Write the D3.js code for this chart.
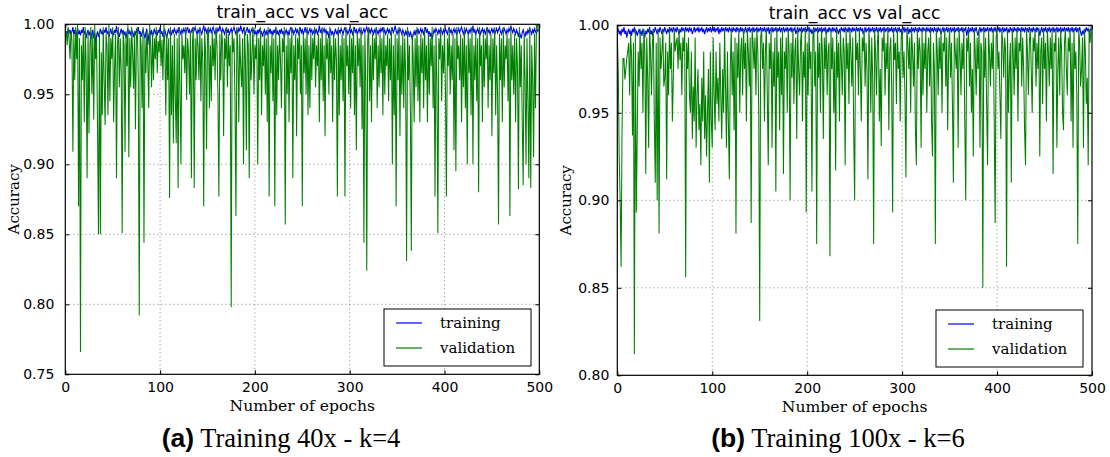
<!DOCTYPE html>
<html><head><meta charset="utf-8">
<script src="https://cdn.jsdelivr.net/npm/d3@7"></script>
<style>
body{margin:0;background:#fff;}
svg{display:block;}
.tick text{font-family:"DejaVu Sans",sans-serif;font-size:14px;fill:#000;}
</style></head>
<body><svg id="c" width="1110" height="457"></svg>
<script>
const panelTitle = "train_acc vs val_acc";
const xLabel = "Number of epochs";
const yLabel = "Accuracy";
const seriesNames = ["training", "validation"];
const xTicks = [0,100,200,300,400,500];
const yTicksA = [0.75,0.80,0.85,0.90,0.95,1.00];
const yTicksB = [0.80,0.85,0.90,0.95,1.00];
const captionA = ["(a)", " Training 40x - k=4"];
const captionB = ["(b)", " Training 100x - k=6"];

const trainA = [
.991,.995,.993,.997,.994,.996,.992,.995,.998,.993,.996,.991,.994,.997,.993,.995,.992,.996,.994,.998,.993,.995,.990,.994,.996,
.992,.995,.989,.993,.996,.990,.994,.986,.992,.995,.991,.994,.997,.993,.995,.992,.996,.994,.998,.993,.995,.991,.994,.997,.993,
.995,.992,.996,.994,.999,.993,.995,.991,.994,.997,.993,.996,.992,.995,.990,.994,.997,.993,.995,.992,.996,.994,.991,.995,.993,
.996,.994,.998,.993,.995,.991,.994,.996,.993,.990,.994,.997,.985,.992,.995,.993,.996,.991,.994,.997,.993,.995,.992,.996,.994,
.998,.993,.995,.991,.994,.996,.993,.990,.994,.997,.993,.995,.992,.996,.994,.997,.995,.993,.996,.994,.998,.995,.993,.996,.994,
.997,.995,.993,.996,.998,.994,.996,.993,.995,.997,.994,.996,.998,.995,.993,.996,.994,.997,.995,.993,.996,.999,.995,.997,.994,
.996,.993,.995,.997,.994,.996,.998,.995,.993,.996,.994,.997,.995,.999,.996,.994,.997,.995,.993,.996,.998,.994,.996,.993,.995,
.997,.994,.996,.998,.995,.993,.996,.994,.997,.995,.999,.996,.994,.997,.995,.993,.996,.998,.994,.996,.993,.995,.997,.994,.996,
.993,.995,.992,.996,.994,.997,.993,.995,.991,.994,.996,.993,.995,.992,.996,.994,.997,.993,.995,.992,.996,.994,.998,.993,.995,
.992,.996,.994,.997,.993,.995,.991,.994,.996,.993,.995,.992,.996,.998,.994,.996,.993,.995,.997,.994,.996,.993,.995,.997,.994,
.996,.993,.995,.998,.994,.996,.993,.995,.997,.994,.996,.993,.995,.997,.994,.996,.993,.995,.999,.994,.996,.993,.995,.997,.994,
.996,.993,.995,.990,.994,.996,.993,.995,.991,.994,.997,.993,.995,.992,.996,.994,.997,.995,.993,.996,.998,.994,.996,.993,.995,
.997,.994,.996,.993,.995,.998,.994,.996,.993,.995,.997,.994,.996,.993,.995,.997,.994,.996,.998,.995,.993,.996,.994,.997,.995,
.993,.996,.994,.997,.995,.993,.996,.994,.997,.995,.998,.994,.996,.993,.995,.997,.994,.996,.993,.995,.997,.994,.996,.999,.995,
.993,.996,.994,.997,.995,.993,.996,.994,.992,.995,.993,.996,.994,.991,.995,.992,.989,.993,.995,.992,.996,.994,.997,.993,.995,
.997,.994,.996,.993,.995,.998,.994,.996,.993,.995,.991,.994,.989,.993,.996,.994,.997,.995,.993,.996,.994,.997,.995,.993,.996,
.994,.997,.995,.993,.996,.998,.994,.996,.993,.995,.997,.994,.996,.993,.995,.997,.994,.996,.998,.995,.993,.996,.994,.997,.995,
.993,.996,.994,.997,.995,.999,.994,.996,.993,.995,.997,.994,.996,.993,.995,.997,.994,.996,.993,.995,.998,.994,.996,.993,.995,
.997,.994,.996,.993,.995,.997,.994,.996,.998,.995,.993,.996,.994,.997,.995,.993,.996,.994,.997,.995,.999,.996,.994,.997,.995,
.993,.996,.994,.991,.995,.992,.990,.994,.996,.993,.991,.995,.993,.996,.994,.997,.995,.993,.996,.994,.997,.995,.993,.996,.995];

const valA = [
0.990,0.995,0.985,0.998,0.990,0.975,0.995,0.988,0.909,0.993,0.960,0.998,0.975,1.000,0.870,0.990,0.766,0.985,0.960,0.996,
0.930,0.998,0.970,0.890,0.995,0.922,0.985,0.998,0.950,0.993,0.932,1.000,0.975,0.990,0.925,0.850,0.995,0.850,0.980,0.935,
0.998,0.960,0.928,0.993,0.985,0.935,1.000,0.945,0.990,0.975,0.998,0.930,0.970,0.993,0.890,0.985,0.998,0.955,0.990,0.965,
0.851,0.995,0.985,0.909,0.993,0.970,1.000,0.905,0.990,0.955,0.998,0.980,0.954,0.995,0.925,0.990,0.998,0.960,0.792,0.993,
0.985,0.940,0.998,0.844,0.990,0.965,0.995,0.975,0.940,1.000,0.985,0.955,0.993,0.960,0.990,0.975,0.998,0.965,0.988,0.980,
0.995,0.970,0.989,0.960,1.000,0.985,0.935,0.993,0.960,0.990,0.876,0.998,0.935,0.985,0.915,0.993,0.950,0.915,0.990,0.883,
0.998,0.955,0.900,0.993,0.975,0.985,0.965,0.998,0.946,0.990,0.980,0.950,0.995,0.890,0.985,0.998,0.883,0.990,0.960,0.993,
0.985,0.960,0.998,0.945,0.990,0.975,0.870,0.995,0.980,0.911,0.993,0.998,0.940,0.985,0.945,0.995,0.970,0.990,0.960,0.998,
0.985,0.950,0.877,0.993,0.960,0.995,0.985,0.920,0.990,0.975,0.998,0.955,0.993,0.970,0.985,0.798,0.995,0.980,0.990,0.945,
0.863,0.998,0.985,0.930,0.993,0.970,0.955,0.990,0.900,0.998,0.975,0.910,0.993,0.985,0.890,0.995,0.960,0.980,0.998,0.950,
0.985,0.975,0.993,0.900,0.990,0.960,0.998,0.935,0.985,0.970,0.993,0.950,0.990,0.930,0.998,0.877,0.985,0.965,0.993,0.945,
0.990,0.870,0.998,0.935,0.985,0.960,0.993,0.975,0.940,0.990,0.980,0.998,0.857,0.985,0.950,0.993,0.930,0.990,0.965,0.998,
0.890,0.985,0.960,0.993,0.920,0.990,0.975,0.998,0.950,0.985,0.870,0.993,0.965,0.990,0.950,0.998,0.935,0.985,0.940,0.993,
0.960,0.990,0.975,0.998,0.955,0.985,0.970,0.993,0.930,0.990,0.960,0.998,0.945,0.985,0.920,0.993,0.975,0.990,0.950,0.998,
0.965,0.985,0.930,0.993,0.960,0.990,0.975,0.877,0.998,0.935,0.985,0.960,0.993,0.945,0.990,0.877,0.998,0.970,0.985,0.950,
0.993,0.940,0.990,0.965,0.998,0.935,0.985,0.910,0.993,0.970,0.990,0.955,0.998,0.925,0.985,0.844,0.993,0.960,0.824,0.990,
0.998,0.945,0.985,0.930,0.993,0.960,0.990,0.975,0.998,0.940,0.985,0.955,0.993,0.965,0.990,0.935,0.998,0.950,0.985,0.970,
0.993,0.945,0.990,0.960,0.998,0.900,0.985,0.935,0.993,0.870,0.990,0.960,0.998,0.920,0.985,0.950,0.993,0.940,0.990,0.965,
0.831,0.998,0.960,0.985,0.940,0.838,0.993,0.975,0.930,0.990,0.955,0.998,0.945,0.985,0.930,0.993,0.965,0.990,0.940,0.998,
0.960,0.985,0.930,0.993,0.950,0.990,0.970,0.998,0.940,0.985,0.877,0.993,0.960,0.851,0.990,0.975,0.998,0.945,0.985,0.965,
0.993,0.955,0.877,0.990,0.970,0.998,0.950,0.985,0.960,0.993,0.910,0.990,0.895,0.998,0.975,0.985,0.960,0.993,0.930,0.990,
0.955,0.998,0.940,0.985,0.900,0.993,0.965,0.990,0.935,0.998,0.900,0.985,0.960,0.993,0.945,0.990,0.880,0.998,0.970,0.985,
0.930,0.993,0.955,0.990,0.975,0.998,0.940,0.985,0.960,0.993,0.920,0.990,0.965,0.998,0.935,0.985,0.950,0.857,0.993,0.960,
0.990,0.930,0.998,0.955,0.985,0.975,0.993,0.945,0.990,0.863,0.998,0.960,0.985,0.950,0.993,0.930,0.990,0.970,0.882,0.998,
0.955,0.985,0.930,0.885,0.993,0.960,0.900,0.990,0.945,0.890,0.998,0.883,0.985,0.960,0.905,0.993,0.940,0.998,1.000,0.995];

const trainB = [
.996,.998,.995,.997,.994,.998,.996,.999,.995,.997,.993,.996,.998,.995,.997,.994,.998,.996,.999,.995,.997,.994,.996,.998,.995,
.997,.994,.998,.996,.993,.997,.995,.998,.996,.999,.995,.997,.994,.998,.996,.999,.997,.995,.998,.996,.999,.997,.995,.998,.996,
.999,.997,.995,.998,.996,.999,.997,.998,.996,.999,.997,.998,.996,.999,.997,.995,.998,.996,.999,.997,.998,.996,.999,.997,.998,
.996,.999,.997,.998,.995,.997,.999,.996,.998,.997,.999,.996,.998,.997,.999,.996,.998,.995,.997,.999,.996,.998,.997,.999,.996,
.998,.997,.999,.996,.998,.997,.999,.995,.998,.996,.999,.997,.998,.996,.999,.997,.998,.996,.999,.997,.998,.996,.999,.997,.998,
.996,.999,.997,.998,.996,.999,.997,.998,.995,.997,.999,.996,.998,.997,.999,.996,.998,.997,.999,.996,.998,.997,.999,.996,.998,
.997,.999,.996,.998,.997,.999,.996,.998,.997,.999,.995,.998,.997,.999,.996,.998,.997,.999,.996,.998,.997,.999,.996,.998,.997,
.999,.996,.998,.997,.999,.996,.998,.997,.999,.996,.998,.997,.999,.995,.997,.999,.996,.998,.997,.999,.996,.998,.997,.999,.996,
.998,.997,.999,.996,.998,.995,.997,.999,.996,.998,.997,.999,.996,.998,.997,.999,.996,.998,.997,.999,.995,.998,.996,.999,.997,
.998,.996,.999,.997,.998,.996,.999,.997,.995,.998,.996,.999,.997,.998,.996,.999,.997,.998,.996,.999,.997,.998,.996,.999,.997,
.998,.996,.999,.997,.998,.996,.999,.997,.998,.995,.997,.999,.996,.998,.997,.999,.996,.998,.997,.999,.996,.998,.997,.999,.996,
.998,.997,.999,.996,.998,.997,.999,.996,.998,.997,.999,.996,.998,.997,.999,.996,.998,.997,.999,.996,.998,.997,.999,.996,.998,
.994,.997,.999,.996,.998,.997,.999,.995,.998,.996,.999,.997,.998,.996,.999,.997,.998,.996,.999,.997,.998,.996,.999,.997,.998,
.996,.999,.997,.998,.996,.999,.997,.998,.996,.999,.997,.998,.996,.999,.997,.998,.995,.997,.999,.996,.998,.997,.999,.996,.998,
.997,.999,.996,.998,.997,.999,.996,.998,.997,.999,.996,.998,.997,.999,.996,.998,.997,.999,.994,.997,.999,.996,.998,.997,.999,
.996,.998,.997,.999,.996,.994,.997,.999,.996,.998,.997,.999,.996,.998,.997,.999,.996,.998,.997,.999,.996,.998,.997,.999,.996,
.998,.997,.999,.996,.998,.997,.999,.996,.998,.997,.999,.995,.998,.996,.999,.997,.998,.996,.999,.997,.998,.996,.999,.997,.998,
.996,.999,.997,.998,.996,.999,.997,.998,.996,.999,.997,.998,.996,.999,.997,.998,.996,.999,.997,.998,.994,.997,.999,.996,.998,
.997,.999,.996,.998,.997,.999,.996,.998,.997,.999,.996,.998,.997,.999,.996,.998,.997,.999,.996,.998,.997,.999,.996,.998,.997,
.999,.996,.998,.997,.999,.996,.998,.997,.999,.996,.998,.997,.999,.996,.994,.997,.995,.998,.996,.999,.997,.998,.996,.997,.998];

const valB = [
0.995,0.975,0.925,0.900,0.862,0.940,0.981,0.981,0.969,0.975,0.981,0.985,0.990,0.960,0.995,0.983,0.937,0.990,0.812,0.998,
0.893,0.937,0.985,0.965,0.998,0.975,0.990,0.950,0.998,0.985,0.915,0.993,0.970,0.930,0.998,0.985,0.960,0.990,0.998,0.945,
0.910,0.990,0.900,0.998,0.881,0.993,0.975,0.985,0.998,0.965,0.970,0.990,0.912,0.985,0.960,0.998,0.975,0.990,0.945,0.970,
0.998,0.985,0.990,0.993,0.975,0.998,0.980,0.990,0.960,0.993,0.985,0.998,0.856,0.990,0.975,0.993,0.960,0.950,0.985,0.935,
0.965,0.945,0.993,0.930,0.960,0.975,0.940,0.955,0.920,0.970,0.945,0.985,0.935,0.960,0.925,0.950,0.975,0.910,0.985,0.945,
0.930,0.993,0.960,0.940,0.985,0.955,0.970,0.945,0.990,0.960,0.935,0.975,0.950,0.998,0.965,0.930,0.985,0.945,0.912,0.975,
0.998,0.960,0.985,0.940,0.993,0.881,0.990,0.970,0.998,0.950,0.985,0.993,0.960,0.998,0.975,0.990,0.945,0.998,0.985,0.965,
0.993,0.887,0.998,0.990,0.975,0.993,0.960,0.998,0.985,0.950,0.831,0.993,0.998,0.975,0.990,0.945,0.985,0.998,0.960,0.920,
0.990,0.975,0.998,0.930,0.985,0.965,0.993,0.905,0.998,0.970,0.985,0.940,0.993,0.960,0.998,0.915,0.985,0.975,0.993,0.950,
0.998,0.985,0.900,0.990,0.970,0.998,0.955,0.985,0.993,0.935,0.998,0.975,0.960,0.990,0.998,0.945,0.985,0.970,0.998,0.893,
0.990,0.960,0.998,0.975,0.985,0.905,0.993,0.998,0.965,0.985,0.875,0.998,0.970,0.990,0.950,0.998,0.985,0.935,0.993,0.975,
0.998,0.960,0.985,0.990,0.868,0.998,0.975,0.993,0.950,0.985,0.917,0.998,0.970,0.990,0.945,0.998,0.980,0.960,0.993,0.985,
0.920,0.998,0.975,0.990,0.955,0.998,0.985,0.965,0.993,0.940,0.900,0.998,0.980,0.990,0.960,0.998,0.975,0.945,0.993,0.985,
0.998,0.965,0.990,0.975,0.912,0.998,0.985,0.950,0.993,0.970,0.875,0.998,0.985,0.960,0.990,0.998,0.945,0.975,0.931,0.993,
0.985,0.998,0.960,0.990,0.975,0.998,0.940,0.985,0.993,0.965,0.893,0.998,0.980,0.990,0.955,0.998,0.975,0.985,0.945,0.993,
0.998,0.970,0.985,0.960,0.913,0.998,0.990,0.975,0.993,0.950,0.998,0.985,0.965,0.990,0.940,0.920,0.998,0.975,0.993,0.985,
0.930,0.998,0.960,0.990,0.975,0.998,0.950,0.985,0.993,0.965,0.998,0.945,0.925,0.990,0.975,0.875,0.998,0.985,0.960,0.993,
0.975,0.998,0.950,0.990,0.985,0.998,0.965,0.993,0.940,0.985,0.998,0.970,0.990,0.955,0.910,0.998,0.985,0.975,0.993,0.930,
0.998,0.985,0.960,0.990,0.975,0.998,0.945,0.900,0.993,0.985,0.998,0.965,0.990,0.950,0.975,0.925,0.998,0.985,0.960,0.993,
0.975,0.998,0.930,0.990,0.985,0.850,0.998,0.970,0.993,0.955,0.920,0.998,0.985,0.965,0.990,0.975,0.998,0.945,0.887,0.993,
0.998,0.975,0.985,0.960,0.935,0.998,0.990,0.970,0.993,0.985,0.862,0.998,0.950,0.975,0.990,0.910,0.998,0.985,0.960,0.993,
0.975,0.998,0.945,0.990,0.985,0.998,0.965,0.993,0.975,0.940,0.920,0.998,0.985,0.960,0.990,0.998,0.975,0.950,0.993,0.985,
0.998,0.965,0.990,0.975,0.998,0.925,0.985,0.993,0.955,0.998,0.975,0.990,0.945,0.998,0.985,0.965,0.993,0.975,0.998,0.915,
0.990,0.985,0.998,0.930,0.975,0.993,0.960,0.998,0.985,0.950,0.940,0.990,0.998,0.975,0.960,0.993,0.985,0.998,0.945,0.990,
0.930,0.998,0.975,0.985,0.960,0.875,0.998,0.990,0.965,0.975,0.993,0.930,0.998,0.985,0.955,0.970,0.920,0.998,0.990,0.999];

const svg = d3.select("#c");

function panel(cfg){
  const {L,R,T,B,yMin,yTicks,train,val,caption,capX,legend,id,yPad} = cfg;
  const x = d3.scaleLinear().domain([0,500]).range([L,R]);
  const y = d3.scaleLinear().domain([yMin,1.0]).range([B,T]);
  const g = svg.append("g");
  // grid
  g.append("g").selectAll("line").data(xTicks.slice(1,-1)).join("line")
    .attr("x1",d=>x(d)).attr("x2",d=>x(d)).attr("y1",T).attr("y2",B)
    .attr("stroke","#000").attr("stroke-width",0.8).attr("stroke-dasharray","1,3").attr("opacity",0.6);
  g.append("g").selectAll("line").data(yTicks.slice(1,-1)).join("line")
    .attr("y1",d=>y(d)).attr("y2",d=>y(d)).attr("x1",L).attr("x2",R)
    .attr("stroke","#000").attr("stroke-width",0.8).attr("stroke-dasharray","1,3").attr("opacity",0.6);
  // clip
  svg.append("defs").append("clipPath").attr("id",id).append("rect")
    .attr("x",L).attr("y",T-1).attr("width",R-L).attr("height",B-T+1);
  const line = d3.line().x((d,i)=>x(i)).y(d=>y(d));
  const lg = g.append("g").attr("clip-path",`url(#${id})`);
  lg.append("path").datum(train).attr("d",line).attr("fill","none").attr("stroke","#0000ff").attr("stroke-width",1.1);
  lg.append("path").datum(val).attr("d",line).attr("fill","none").attr("stroke","#008000").attr("stroke-width",1.05);
  // axes
  const ax = g.append("g").attr("transform",`translate(0,${B})`)
    .call(d3.axisBottom(x).tickValues(xTicks).tickSize(-4).tickPadding(8).tickFormat(d3.format("d")));
  ax.select(".domain").remove();
  const ay = g.append("g").attr("transform",`translate(${L},0)`)
    .call(d3.axisLeft(y).tickValues(yTicks).tickSize(-4).tickPadding(yPad).tickFormat(d3.format(".2f")));
  ay.select(".domain").remove();
  g.append("g").attr("transform",`translate(0,${T})`)
    .call(d3.axisTop(x).tickValues(xTicks).tickSize(-4).tickFormat("")).select(".domain").remove();
  g.append("g").attr("transform",`translate(${R},0)`)
    .call(d3.axisRight(y).tickValues(yTicks).tickSize(-4).tickFormat("")).select(".domain").remove();
  g.selectAll(".tick line").attr("stroke","#000");
  // frame
  g.append("rect").attr("x",L).attr("y",T).attr("width",R-L).attr("height",B-T)
    .attr("fill","none").attr("stroke","#000").attr("stroke-width",1.2);
  // title
  g.append("text").attr("x",(L+R)/2).attr("y",T-6).attr("text-anchor","middle")
    .attr("font-family","DejaVu Sans").attr("font-size",17.2).text(panelTitle);
  g.append("text").attr("x",(L+R)/2).attr("y",B+37).attr("text-anchor","middle")
    .attr("font-family","DejaVu Serif").attr("font-size",15.6).text(xLabel);
  g.append("text").attr("transform",`translate(${L-46},${(T+B)/2}) rotate(-90)`).attr("text-anchor","middle")
    .attr("font-family","DejaVu Serif").attr("font-size",15).text(yLabel);
  // legend
  const [lx0,ly0,lx1,ly1] = legend;
  g.append("rect").attr("x",lx0).attr("y",ly0).attr("width",lx1-lx0).attr("height",ly1-ly0)
    .attr("fill","#fff").attr("stroke","#000").attr("stroke-width",1);
  const colors = ["#0000ff","#008000"];
  seriesNames.forEach((n,i)=>{
    const yy = ly0 + 14 + i*25;
    g.append("line").attr("x1",lx0+12).attr("x2",lx0+38).attr("y1",yy).attr("y2",yy)
      .attr("stroke",colors[i]).attr("stroke-width",1.2);
    g.append("text").attr("x",lx0+56).attr("y",yy+5).attr("font-family","DejaVu Serif")
      .attr("font-size",15).text(n);
  });
  // caption
  const cap = svg.append("text").attr("x",capX).attr("y",447).attr("text-anchor","middle").attr("font-size",26.5);
  cap.append("tspan").attr("font-family","Liberation Sans").attr("font-weight","bold").text(caption[0]);
  cap.append("tspan").attr("font-family","Liberation Serif").text(caption[1]);
}

panel({id:"ca",L:65.3,R:539.3,T:24.3,B:374.3,yMin:0.75,yTicks:yTicksA,train:trainA,val:valA,
  caption:captionA,capX:281,legend:[384,309,531,366],yPad:11});
panel({id:"cb",L:617.3,R:1092,T:25.3,B:375.3,yMin:0.80,yTicks:yTicksB,train:trainB,val:valB,
  caption:captionB,capX:838,legend:[936,310,1083,367],yPad:8});
</script></body></html>
